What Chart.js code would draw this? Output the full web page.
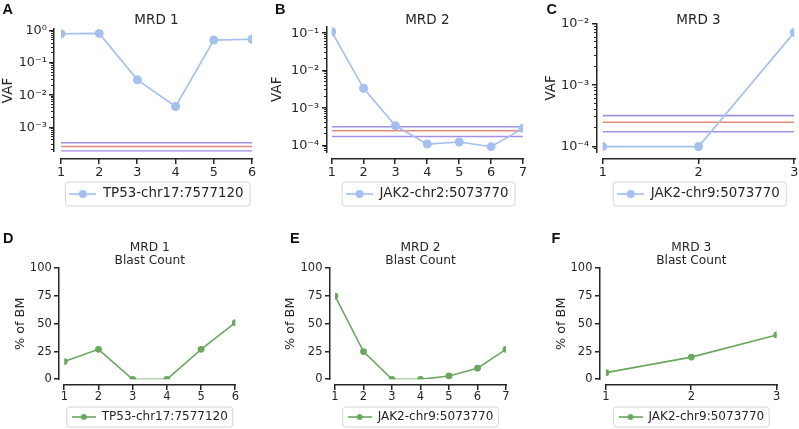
<!DOCTYPE html>
<html>
<head>
<meta charset="utf-8">
<script src="https://cdn.jsdelivr.net/npm/chart.js@4.4.1/dist/chart.umd.min.js"></script>
<style>
  body { margin: 0; background: #fff; width: 799px; height: 429px; position: relative; overflow: hidden; }
  canvas { position: absolute; }
</style>
</head>
<body>
<canvas id="pA"></canvas><canvas id="pB"></canvas><canvas id="pC"></canvas>
<canvas id="pD"></canvas><canvas id="pE"></canvas><canvas id="pF"></canvas>
<script>
// ---- data ----
const visitsA = [1, 2, 3, 4, 5, 6];
const vafA = [0.80, 0.82, 0.030, 0.0045, 0.51, 0.54];
const cutoffA = [3.4e-4, 2.6e-4, 1.9e-4];

const visitsB = [1, 2, 3, 4, 5, 6, 7];
const vafB = [0.11, 0.0034, 3.4e-4, 1.1e-4, 1.25e-4, 9.4e-5, 2.9e-4];
const cutoffB = [3.2e-4, 2.5e-4, 1.75e-4];

const visitsC = [1, 2, 3];
const vafC = [1.0e-4, 1.0e-4, 7.3e-3];
const cutoffC = [3.2e-4, 2.5e-4, 1.75e-4];

const visitsD = [1, 2, 3, 4, 5, 6];
const blastD = [16, 27, 0, 0, 27, 51];
const visitsE = [1, 2, 3, 4, 5, 6, 7];
const blastE = [75, 25, 0, 0, 3, 10, 27];
const visitsF = [1, 2, 3];
const blastF = [6, 20, 40];

const mutA = 'TP53-chr17:7577120';
const mutB = 'JAK2-chr2:5073770';
const mutC = 'JAK2-chr9:5073770';

const logTicksA = [1e-3, 1e-2, 1e-1, 1];
const logTicksB = [1e-4, 1e-3, 1e-2, 1e-1];
const logTicksC = [1e-4, 1e-3, 1e-2];
const pctTicks = [0, 25, 50, 75, 100];

// ---- look ----
const INK = '#262626';
const BLUE = '#a5bfee';
const GREEN = '#6aa75f';
const CUT_COLORS = ['#a491e6', '#e28a7d', '#a491e6'];
const FAMILY = '"DejaVu Sans", sans-serif';

// font sizes etc. differ a bit between the two rows of the figure
const TOP = { tick: 12.8, title: 13.5, titleLH: 1.2, titleY: 20, legend: 13.4, legendPad: 8, legendY: 194,
              yTitle: 13.5, xPad: 13, gap: 7.5, radius: 4.5, width: 1.6, frameH: 24, frameL: 4, frameR: 6.5,
              spineDown: 7, letterY: 13.5, top: 0, h: 215 };
const BOT = { tick: 11.5, title: 12.2, titleLH: 1.04, titleY: 248.3, legend: 12, legendPad: 4, legendY: 417,
              yTitle: 12.8, xPad: 10.9, gap: 7.5, radius: 3.4, width: 1.6, frameH: 20, frameL: 5, frameR: 5,
              spineDown: 5.7, letterY: 242.5, top: 215, h: 222 };

function sup(n) {
  const m = {'-': '\u207b', '0': '\u2070', '1': '\u00b9', '2': '\u00b2', '3': '\u00b3', '4': '\u2074',
             '5': '\u2075', '6': '\u2076', '7': '\u2077', '8': '\u2078', '9': '\u2079'};
  return String(n).split('').map(c => m[c]).join('');
}
const logLabel = v => '10' + sup(Math.round(Math.log10(v)));

// panels: where the plot box sits on the page (page pixels)
const panels = [
  { id: 'pA', row: TOP, left: 0,   w: 290, x0: 61,    x1: 252,   y0: 29.3, y1: 151.7, spineLeft: 6.7, letter: 'A', lx: 2.5,   ytx: 8,
    title: ['MRD 1'], visits: visitsA, vals: vafA, cut: cutoffA, log: true, ymin: 1.8e-4, ymax: 1.1, ticks: logTicksA,
    color: BLUE, label: mutA, ytitle: 'VAF' },
  { id: 'pB', row: TOP, left: 266, w: 290, x0: 331.7, x1: 523,   y0: 26.7, y1: 151.7, spineLeft: 5,   letter: 'B', lx: 275,   ytx: 277.7,
    title: ['MRD 2'], visits: visitsB, vals: vafB, cut: cutoffB, log: true, ymin: 6.9e-5, ymax: 0.15, ticks: logTicksB,
    color: BLUE, label: mutB, ytitle: 'VAF' },
  { id: 'pC', row: TOP, left: 532, w: 290, x0: 602.7, x1: 794.3, y0: 24,   y1: 151.7, spineLeft: 6,   letter: 'C', lx: 546.5, ytx: 551.7,
    title: ['MRD 3'], visits: visitsC, vals: vafC, cut: cutoffC, log: true, ymin: 8.26e-5, ymax: 1e-2, ticks: logTicksC,
    color: BLUE, label: mutC, ytitle: 'VAF' },
  { id: 'pD', row: BOT, left: 0,   w: 290, x0: 64.3,  x1: 235.3, y0: 268.3, y1: 379.3, spineLeft: 5, letter: 'D', lx: 3,     ytx: 20.7,
    title: ['MRD 1', 'Blast Count'], visits: visitsD, vals: blastD, cut: [], log: false, ymin: 0, ymax: 100, ticks: pctTicks,
    color: GREEN, label: mutA, ytitle: '% of BM' },
  { id: 'pE', row: BOT, left: 266, w: 290, x0: 335,   x1: 506,   y0: 268.3, y1: 379.3, spineLeft: 5, letter: 'E', lx: 290,   ytx: 291,
    title: ['MRD 2', 'Blast Count'], visits: visitsE, vals: blastE, cut: [], log: false, ymin: 0, ymax: 100, ticks: pctTicks,
    color: GREEN, label: mutC, ytitle: '% of BM' },
  { id: 'pF', row: BOT, left: 532, w: 290, x0: 606,   x1: 776.7, y0: 268.3, y1: 379.3, spineLeft: 6, letter: 'F', lx: 551.5, ytx: 561.7,
    title: ['MRD 3', 'Blast Count'], visits: visitsF, vals: blastF, cut: [], log: false, ymin: 0, ymax: 100, ticks: pctTicks,
    color: GREEN, label: mutC, ytitle: '% of BM' }
];

// seaborn-ish offset spines + tick marks, legend frame, panel letter
function makeDeco(p) {
  const f = p.row;
  const LW = 1.5;
  return {
    id: 'deco' + p.id,
    afterDraw(chart) {
      const ctx = chart.ctx;
      const a = chart.chartArea;
      const xs = chart.scales.x, ys = chart.scales.y;
      ctx.save();
      ctx.fillStyle = INK;
      // bottom spine, pushed down
      const sy = Math.round(a.bottom + f.spineDown);
      ctx.fillRect(Math.round(a.left) - 1, sy - 1, Math.round(a.right - a.left) + 2, LW);
      p.visits.forEach(v => {
        const px = Math.round(xs.getPixelForValue(v));
        ctx.fillRect(px - 1, sy, LW, 5);
      });
      // left spine, pushed left
      const sx = Math.round(a.left - p.spineLeft);
      ctx.fillRect(sx - 1, Math.round(a.top) - 1, LW, Math.round(a.bottom - a.top) + 2);
      p.ticks.forEach(v => {
        const py = Math.round(ys.getPixelForValue(v));
        ctx.fillRect(sx - 5, py - 1, 5, LW);
      });
      if (p.log) {
        for (let e = Math.floor(Math.log10(p.ymin)); e <= Math.ceil(Math.log10(p.ymax)); e++) {
          for (let k = 2; k <= 9; k++) {
            const v = k * Math.pow(10, e);
            if (v < p.ymin || v > p.ymax) continue;
            const py = Math.round(ys.getPixelForValue(v));
            ctx.fillRect(sx - 3, py - 1, 3, 1);
          }
        }
      }

      // frame round the legend entry
      const hb = chart.legend.legendHitBoxes[0];
      if (hb) {
        const cy = hb.top + hb.height / 2;
        ctx.strokeStyle = '#d4d4d4';
        ctx.lineWidth = 1;
        ctx.beginPath();
        ctx.roundRect(hb.left - f.frameL, cy - f.frameH / 2, hb.width + f.frameL + f.frameR, f.frameH, 3);
        ctx.stroke();
      }

      ctx.fillStyle = '#111';
      ctx.font = 'bold 14.5px "Liberation Sans", Arial, sans-serif';
      ctx.textBaseline = 'alphabetic';
      ctx.fillText(p.letter, p.lx - p.left, f.letterY - f.top);
      ctx.restore();
    }
  };
}

function legendMarker(color, len, r, lw) {
  const c = document.createElement('canvas');
  c.width = Math.round(len); c.height = 12;
  const g = c.getContext('2d');
  g.strokeStyle = color; g.lineWidth = lw;
  g.beginPath(); g.moveTo(0, 6); g.lineTo(c.width, 6); g.stroke();
  g.fillStyle = color;
  g.beginPath(); g.arc(c.width / 2, 6, r, 0, Math.PI * 2); g.fill();
  return c;
}

function buildPanel(p) {
  const f = p.row;
  const cv = document.getElementById(p.id);
  cv.width = p.w; cv.height = f.h;
  cv.style.left = p.left + 'px';
  cv.style.top = f.top + 'px';

  const lhT = f.title * f.titleLH;
  const tPadTop = f.titleY - f.top - lhT / 2;
  const tPadBot = (p.y0 - f.top) - p.title.length * lhT - tPadTop;
  const legTop = f.legendY - f.legendPad - f.legend / 2;
  const legH = f.legend + f.legendPad + 10;
  const xH = legTop - p.y1;
  const yW = p.x0 - p.left;
  const lhY = f.yTitle * 1.2;
  const handle = 2 * f.legend;
  const n = p.visits.length;

  const datasets = [{
    label: p.label,
    data: p.visits.map((x, i) => ({ x: x, y: p.vals[i] })),
    borderColor: p.color, backgroundColor: p.color,
    borderWidth: f.width, pointRadius: f.radius, pointBorderWidth: 0,
    pointHoverRadius: f.radius, tension: 0
  }];
  p.cut.forEach((c, i) => datasets.push({
    label: 'cutoff' + i,
    data: [{ x: p.visits[0], y: c }, { x: p.visits[n - 1], y: c }],
    borderColor: CUT_COLORS[i], borderWidth: 1.6, pointRadius: 0
  }));

  const tickFont = { family: FAMILY, size: f.tick };
  new Chart(cv, {
    type: 'line',
    data: { datasets: datasets },
    options: {
      responsive: false,
      animation: false,
      devicePixelRatio: 1,
      events: [],
      layout: { padding: { left: 0, top: 0, right: p.left + p.w - p.x1, bottom: f.top + f.h - legTop - legH } },
      scales: {
        x: {
          type: 'linear', min: p.visits[0], max: p.visits[n - 1],
          afterBuildTicks: s => { s.ticks = p.visits.map(v => ({ value: v })); },
          afterFit: s => { s.height = xH; },
          grid: { display: false, drawTicks: false },
          border: { display: false },
          ticks: { font: tickFont, color: INK, padding: f.xPad, autoSkip: false, maxRotation: 0, callback: v => String(v) }
        },
        y: {
          type: p.log ? 'logarithmic' : 'linear', min: p.ymin, max: p.ymax,
          afterBuildTicks: s => { s.ticks = p.ticks.map(v => ({ value: v })); },
          afterFit: s => { s.width = yW; },
          grid: { display: false, drawTicks: false },
          border: { display: false },
          ticks: { font: tickFont, color: INK, padding: p.spineLeft + f.gap, autoSkip: false, major: { enabled: false },
                   callback: v => p.log ? logLabel(v) : String(v) },
          title: { display: true, text: p.ytitle, color: INK, font: { family: FAMILY, size: f.yTitle },
                   padding: { top: Math.max(0, p.ytx - p.left - lhY / 2), bottom: 0 } }
        }
      },
      plugins: {
        title: {
          display: true, text: p.title, fullSize: false, color: INK,
          font: { family: FAMILY, size: f.title, weight: 'normal', lineHeight: f.titleLH },
          padding: { top: tPadTop, bottom: tPadBot }
        },
        legend: {
          display: true, position: 'bottom', fullSize: false, align: 'center',
          labels: {
            usePointStyle: true,
            pointStyle: legendMarker(p.color, handle, f.radius - 0.5, f.width),
            pointStyleWidth: handle,
            color: INK, font: { family: FAMILY, size: f.legend }, padding: f.legendPad,
            filter: item => item.datasetIndex === 0
          }
        },
        tooltip: { enabled: false }
      }
    },
    plugins: [makeDeco(p)]
  });
}

panels.forEach(buildPanel);
</script>
</body>
</html>
